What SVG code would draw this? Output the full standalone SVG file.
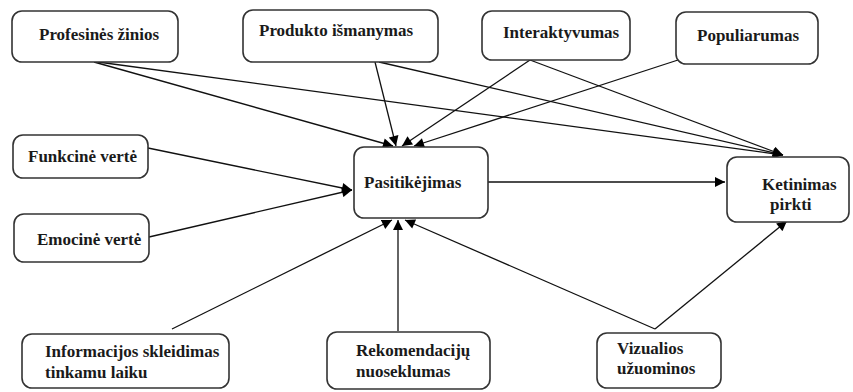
<svg xmlns="http://www.w3.org/2000/svg" width="853" height="392" viewBox="0 0 853 392">
<style>
.box{fill:#fff;stroke:#333;stroke-width:1.6}
.t{font-family:"Liberation Serif","Times New Roman",serif;font-weight:bold;font-size:17px;fill:#1a1a1a}
.c{stroke:#111;stroke-width:1.3;fill:none;marker-end:url(#ah)}
</style>
<defs>
<marker id="ah" viewBox="0 0 10 10" refX="10" refY="5" markerWidth="11" markerHeight="10" markerUnits="userSpaceOnUse" orient="auto">
<path d="M0,0 L10,5 L0,10 z" fill="#000"/>
</marker>
</defs>
<rect width="853" height="392" fill="#fff"/>
<g id="connectors">
<line class="c" x1="94" y1="62" x2="393" y2="146"/>
<line class="c" x1="98" y1="62" x2="783" y2="155"/>
<line class="c" x1="375" y1="62" x2="396" y2="146"/>
<line class="c" x1="379" y1="62" x2="783" y2="155"/>
<line class="c" x1="530" y1="60" x2="402" y2="146"/>
<line class="c" x1="530" y1="60" x2="783" y2="155"/>
<line class="c" x1="678" y1="60" x2="414" y2="146"/>
<line class="c" x1="148" y1="148" x2="352" y2="190"/>
<line class="c" x1="149" y1="237" x2="352" y2="190"/>
<line class="c" x1="172" y1="329" x2="392" y2="220"/>
<line class="c" x1="398" y1="331" x2="398" y2="220"/>
<line class="c" x1="655" y1="329" x2="405" y2="220"/>
<line class="c" x1="655" y1="329" x2="787" y2="221"/>
<line class="c" x1="488" y1="182" x2="725" y2="182"/>
</g>
<g id="profesines">
<rect class="box" x="12" y="11" width="166" height="51" rx="10"/>
<text class="t" x="39" y="40">Profesinės žinios</text>
</g>
<g id="produkto">
<rect class="box" x="243" y="10" width="195" height="52" rx="10"/>
<text class="t" x="259" y="36">Produkto išmanymas</text>
</g>
<g id="interaktyvumas">
<rect class="box" x="482" y="11" width="148" height="49" rx="10"/>
<text class="t" x="503" y="38">Interaktyvumas</text>
</g>
<g id="populiarumas">
<rect class="box" x="676" y="12" width="142" height="52" rx="10"/>
<text class="t" x="697" y="41">Populiarumas</text>
</g>
<g id="funkcine">
<rect class="box" x="13" y="135" width="135" height="43" rx="10"/>
<text class="t" x="28" y="162">Funkcinė vertė</text>
</g>
<g id="emocine">
<rect class="box" x="14" y="214" width="135" height="48" rx="10"/>
<text class="t" x="37" y="245">Emocinė vertė</text>
</g>
<g id="pasitikejimas">
<rect class="box" x="354" y="147" width="134" height="71" rx="10"/>
<text class="t" x="364" y="188">Pasitikėjimas</text>
</g>
<g id="ketinimas">
<rect class="box" x="727" y="157" width="122" height="65" rx="10"/>
<text class="t" x="762" y="190">Ketinimas</text>
<text class="t" x="770" y="210">pirkti</text>
</g>
<g id="informacijos">
<rect class="box" x="22" y="334" width="207" height="54" rx="10"/>
<text class="t" x="45" y="357">Informacijos skleidimas</text>
<text class="t" x="45" y="378">tinkamu laiku</text>
</g>
<g id="rekomendaciju">
<rect class="box" x="327" y="332" width="163" height="57" rx="10"/>
<text class="t" x="356" y="356">Rekomendacijų</text>
<text class="t" x="356" y="377">nuoseklumas</text>
</g>
<g id="vizualios">
<rect class="box" x="597" y="333" width="124" height="55" rx="10"/>
<text class="t" x="617" y="354">Vizualios</text>
<text class="t" x="617" y="374">užuominos</text>
</g>
</svg>
